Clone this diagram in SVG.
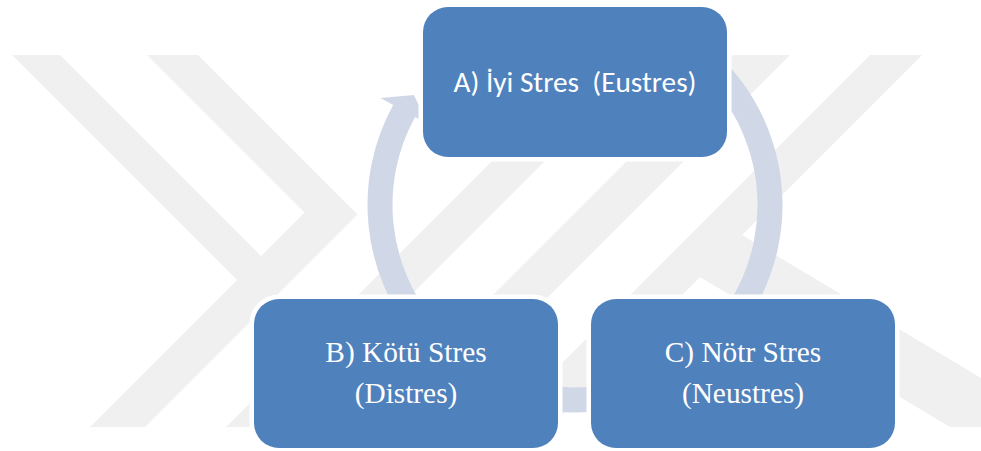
<svg xmlns="http://www.w3.org/2000/svg" width="981" height="451" viewBox="0 0 981 451">
  <style>
    .wm { fill: #F0F0F0; }
    .arrow { fill: #D0D8E8; }
    .box { fill: #4F81BD; stroke: #FFFFFF; stroke-width: 9; paint-order: stroke; }
    .sans { font-family: Calibri, Carlito, Lato, "Open Sans", sans-serif; font-size: 28px; fill: #FFFFFF; }
    .serif { font-family: "Liberation Serif", "Times New Roman", serif; font-size: 29.33px; fill: #FFFFFF; }
  </style>
  <rect width="981" height="451" fill="#FFFFFF"/>
  <g id="watermark">
    <polygon class="wm" points="12,55 60,55 261,256 304.5,212.5 147,55 198,55 357.5,214.5 145,427 90,427 237,280"/>
    <polygon class="wm" points="598,55 651,55 279,427 226,427"/>
    <polygon class="wm" points="733,55 790,55 418,427 361,427"/>
    <polygon class="wm" points="870,55 922,55 550,427 498,427"/>
    <polygon class="wm" points="700,277 742,235 981,378 981,427 950,427"/>
  </g>
  <g id="connectors">
    <path id="arrow-b-a" class="arrow" d="M 416.05 338.38 A 207.5 207.5 0 0 1 393.17 105.04 L 380.46 98.05 L 413.91 95.11 L 427.78 124.07 L 415.07 117.08 A 182.5 182.5 0 0 0 435.20 322.31 Z"/>
    <path id="arrow-a-c" class="arrow" d="M 678.75 25.30 A 207.5 207.5 0 0 1 744.97 324.02 L 756.85 332.33 L 723.28 331.64 L 712.62 301.36 L 724.50 309.68 A 182.5 182.5 0 0 0 666.25 46.95 Z"/>
    <path id="arrow-c-b" class="arrow" d="M 645.97 399.99 A 207.5 207.5 0 0 1 497.27 397.39 L 491.84 410.83 L 484.96 377.97 L 512.07 360.77 L 506.63 374.21 A 182.5 182.5 0 0 0 637.42 376.49 Z"/>
  </g>
  <g id="node-a">
    <rect class="box" x="423" y="7" width="304" height="150" rx="25" ry="25"/>
    <text class="sans" x="575" y="92" text-anchor="middle" xml:space="preserve" textLength="243" lengthAdjust="spacingAndGlyphs">A) İyi Stres  (Eustres)</text>
  </g>
  <g id="node-b">
    <rect class="box" x="254" y="299" width="304" height="149" rx="25" ry="25"/>
    <text class="serif" x="406" y="362" text-anchor="middle">B) Kötü Stres</text>
    <text class="serif" x="406" y="403" text-anchor="middle">(Distres)</text>
  </g>
  <g id="node-c">
    <rect class="box" x="591" y="299" width="304" height="149" rx="25" ry="25"/>
    <text class="serif" x="743" y="362" text-anchor="middle">C) Nötr Stres</text>
    <text class="serif" x="743" y="403" text-anchor="middle">(Neustres)</text>
  </g>
</svg>
